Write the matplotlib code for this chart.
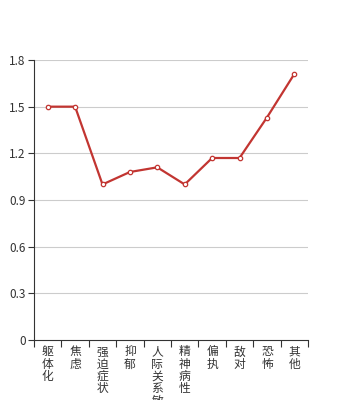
import numpy as np
import matplotlib
matplotlib.use("Agg")
import matplotlib.pyplot as plt

plt.rcParams['font.family'] = ['Noto Sans CJK SC', 'DejaVu Sans']

# ---------------- ДАННЫЕ ----------------
categories = ["躯体化", "焦虑", "强迫症状", "抑郁", "人际关系敏感",
              "精神病性", "偏执", "敌对", "恐怖", "其他"]
values = [1.5, 1.5, 1.0, 1.08, 1.11, 1.0, 1.17, 1.17, 1.43, 1.71]
y_ticks = [0, 0.3, 0.6, 0.9, 1.2, 1.5, 1.8]
y_tick_labels = ["0", "0.3", "0.6", "0.9", "1.2", "1.5", "1.8"]

line_color = "#c23531"
text_color = "#333333"

fig = plt.figure(figsize=(3.42, 4.0), dpi=100)
ax = fig.add_axes([34 / 342, 60 / 400, 274 / 342, 280 / 400])

x = np.arange(len(categories))

# сетка
for t in y_ticks[1:]:
    ax.axhline(t, color="#cccccc", linewidth=0.8, zorder=0)

ax.plot(x, values, color=line_color, linewidth=1.6, zorder=3)
ax.scatter(x, values, s=10, facecolor="white", edgecolor=line_color,
           linewidths=0.9, zorder=4)

ax.set_xlim(-0.5, len(categories) - 0.5)
ax.set_ylim(0, 1.8)

ax.set_yticks(y_ticks)
ax.set_yticklabels(y_tick_labels, color=text_color, fontsize=8.5)
ax.tick_params(axis="y", length=4, width=0.8, color="#333333", pad=2)

# деления по границам категорий
ax.set_xticks(np.arange(-0.5, len(categories), 1.0))
ax.set_xticklabels([])
ax.tick_params(axis="x", length=5, width=0.8, color="#333333")

# вертикальные подписи (последний иероглиф обрезан краем, как в образце)
for i, name in enumerate(categories):
    ax.text(i, -0.035, "\n".join(name), transform=ax.transData,
            ha="center", va="top", fontsize=8.5, color=text_color,
            linespacing=0.93, clip_on=False)

for side in ["top", "right"]:
    ax.spines[side].set_visible(False)
for side in ["left", "bottom"]:
    ax.spines[side].set_color("#333333")
    ax.spines[side].set_linewidth(0.8)

fig.savefig("out.png", dpi=100)
